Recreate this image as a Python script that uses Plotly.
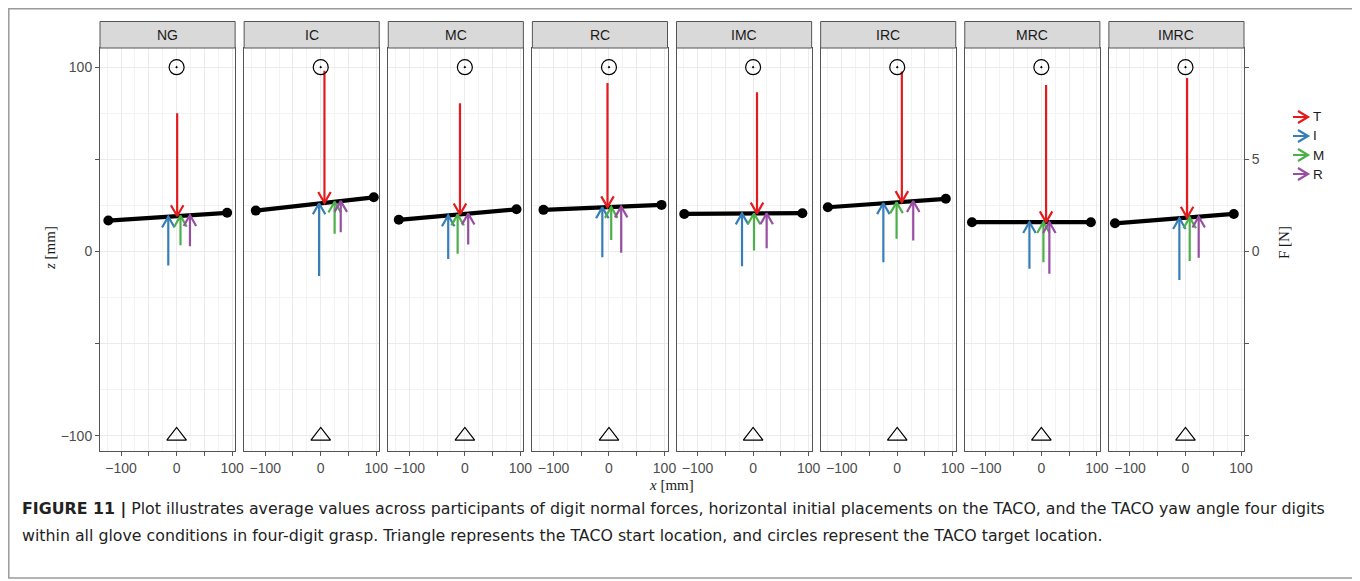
import plotly.graph_objects as go
from plotly.subplots import make_subplots

# ---------------- data ----------------
conditions = ["NG", "IC", "MC", "RC", "IMC", "IRC", "MRC", "IMRC"]
# TACO (object) edge positions, mm
taco_x_left = [-123, -117, -119, -118, -124, -125, -125, -127]
taco_z_left = [16.8, 22.2, 17.2, 22.6, 20.4, 24.0, 15.9, 15.3]
taco_x_right = [91, 95.5, 93, 94.6, 88.7, 87.5, 89.2, 87]
taco_z_right = [21.0, 29.4, 22.9, 25.3, 20.8, 28.6, 15.9, 20.4]
# horizontal placements of digits, mm
x_T = [1, 6.7, -8.8, -2.7, 7, 8.3, 8.5, 2.9]
x_I = [-15, -3, -30, -12, -20, -25, -21.5, -11]
x_M = [7, 25, -13, 4, 1.6, -1.2, 3.7, 7.6]
x_R = [24, 36, 6, 22, 24.4, 28.8, 14.4, 23.8]
# normal forces, N
F_T = [5.58, 7.17, 6.02, 6.73, 6.57, 7.08, 7.44, 7.57]
F_I = [2.65, 3.93, 2.36, 2.71, 2.86, 3.20, 2.53, 3.35]
F_M = [1.60, 1.74, 2.13, 1.79, 2.01, 1.98, 2.17, 2.37]
F_R = [1.68, 1.69, 1.67, 2.51, 1.89, 2.13, 2.80, 2.23]
# start / target locations
start_xz = (0, -100)
target_xz = (0, 100)

digit_labels = ["T", "I", "M", "R"]
digit_colors = ["#E41A1C", "#377EB8", "#4DAF4A", "#984EA3"]
mm_per_N = 10

x_ticks = [-100, -50, 0, 50, 100]
x_ticktext = ["\u2212100", "", "0", "", "100"]
x_minor = [-125, -75, -25, 25, 75]
z_ticks = [-100, -50, 0, 50, 100]
z_ticktext = ["\u2212100", "", "0", "", "100"]
z_minor = [-75, -25, 25, 75]
F_ticks = [-10, -5, 0, 5, 10]
F_ticktext = ["", "", "0", "5", ""]

caption1 = ("<b>FIGURE 11 |</b> Plot illustrates average values across participants of digit normal forces, "
            "horizontal initial placements on the TACO, and the TACO yaw angle four digits")
caption2 = ("within all glove conditions in four-digit grasp. Triangle represents the TACO start location, "
            "and circles represent the TACO target location.")

# ---------------- layout geometry (screen pixels; page body adds an 8px offset) ----------------
OFF = 8
W, H = 1360 - OFF, 581 - OFF
plot_left, plot_right, plot_top, plot_bottom = 100, 1244, 48, 451   # screen coords
ML = plot_left - OFF
MT = plot_top - OFF
MR = W - (plot_right - OFF)
MB = H - (plot_bottom - OFF)
PW, PH = W - ML - MR, H - MT - MB
n = len(conditions)
gap_px = 9
hs = gap_px / PW
xr = [-138, 105.4]
zr = [-108.2, 110.4]
panel_w = (PW - (n - 1) * gap_px) / n
kx = panel_w / (xr[1] - xr[0])   # px per mm (x)
kz = PH / (zr[1] - zr[0])        # px per mm (z)
head_len = 12.5
hx = head_len * 0.5 / kx
hz = head_len * 0.866 / kz


def px2paper(px, py):
    return (px - OFF - ML) / PW, (H - MB - (py - OFF)) / PH


fig = make_subplots(rows=1, cols=n, horizontal_spacing=hs)

FRAME = "#555555"
GRID = "#ebebeb"
GRID_MINOR = "#f3f3f3"
SANS = "Liberation Sans, Arial, sans-serif"
TICKFONT = dict(family=SANS, size=14, color="#4d4d4d")

for i, cond in enumerate(conditions):
    col = i + 1
    xl, zl, xrt, zrt = taco_x_left[i], taco_z_left[i], taco_x_right[i], taco_z_right[i]

    def z_on_line(x):
        return zl + (x - xl) * (zrt - zl) / (xrt - xl)

    # TACO line
    fig.add_trace(go.Scatter(x=[xl, xrt], y=[zl, zrt], mode="lines+markers",
                             line=dict(color="black", width=4.2),
                             marker=dict(color="black", size=10),
                             showlegend=False, hoverinfo="skip"), row=1, col=col)
    # digit force arrows
    xs_all = [x_T[i], x_I[i], x_M[i], x_R[i]]
    fs_all = [F_T[i], F_I[i], F_M[i], F_R[i]]
    for d, (xd, fd, c) in enumerate(zip(xs_all, fs_all, digit_colors)):
        tip = z_on_line(xd)
        if d == 0:   # thumb pushes downward from above
            tail = tip + fd * mm_per_N
            h = hz
        else:        # fingers push upward from below
            tail = tip - fd * mm_per_N
            h = -hz
        xs = [xd, xd, None, xd - hx, xd, xd + hx]
        ys = [tail, tip, None, tip + h, tip, tip + h]
        fig.add_trace(go.Scatter(x=xs, y=ys, mode="lines",
                                 line=dict(color=c, width=2.2),
                                 showlegend=False, hoverinfo="skip"), row=1, col=col)
    # target and start markers
    fig.add_trace(go.Scatter(x=[target_xz[0]], y=[target_xz[1]], mode="markers",
                             marker=dict(symbol="circle-open-dot", size=15, color="black",
                                         line=dict(width=1.2, color="black")),
                             showlegend=False, hoverinfo="skip"), row=1, col=col)
    fig.add_trace(go.Scatter(x=[start_xz[0]], y=[start_xz[1]], mode="markers",
                             marker=dict(symbol="triangle-up-open", size=17, color="black",
                                         line=dict(width=1.2, color="black")),
                             showlegend=False, hoverinfo="skip"), row=1, col=col)

    fig.update_xaxes(range=xr, tickvals=x_ticks, ticktext=x_ticktext,
                     ticks="outside", ticklen=4, tickcolor=FRAME, tickwidth=1,
                     showline=True, linecolor=FRAME, linewidth=1, mirror=True,
                     showgrid=True, gridcolor=GRID, gridwidth=1, zeroline=False,
                     minor=dict(tickvals=x_minor, showgrid=True, gridcolor=GRID_MINOR, gridwidth=1),
                     tickfont=TICKFONT, row=1, col=col)
    fig.update_yaxes(range=zr, tickvals=z_ticks, ticktext=z_ticktext,
                     ticks="outside" if i == 0 else "", ticklen=4, tickcolor=FRAME,
                     showticklabels=(i == 0),
                     showline=True, linecolor=FRAME, linewidth=1, mirror=True,
                     showgrid=True, gridcolor=GRID, gridwidth=1, zeroline=False,
                     minor=dict(tickvals=z_minor, showgrid=True, gridcolor=GRID_MINOR, gridwidth=1),
                     tickfont=TICKFONT, row=1, col=col)

    # strip
    dom = fig.layout["xaxis" if col == 1 else f"xaxis{col}"].domain
    _, y_strip_top = px2paper(0, 21.5)
    fig.add_shape(type="rect", xref="paper", yref="paper", x0=dom[0], x1=dom[1],
                  y0=1, y1=y_strip_top, fillcolor="#d9d9d9",
                  line=dict(color=FRAME, width=1), layer="above")
    fig.add_annotation(xref="paper", yref="paper", x=(dom[0] + dom[1]) / 2,
                       y=(1 + y_strip_top) / 2, text=cond, showarrow=False,
                       font=dict(family=SANS, size=14, color="#1a1a1a"),
                       xanchor="center", yanchor="middle")

# secondary force axis on the right of the last panel
fig.update_layout(yaxis9=dict(overlaying=f"y{n}", anchor=f"x{n}", side="right",
                              range=[zr[0] / mm_per_N, zr[1] / mm_per_N],
                              tickvals=F_ticks, ticktext=F_ticktext, ticks="outside",
                              ticklen=4, tickcolor=FRAME, showgrid=False, zeroline=False,
                              showline=False, tickfont=TICKFONT))
fig.add_trace(go.Scatter(x=[None], y=[None], xaxis=f"x{n}", yaxis="y9",
                         showlegend=False, hoverinfo="skip"))

# axis titles
SERIF = "Liberation Serif, Times New Roman, serif"
TITLEFONT = dict(family=SERIF, size=15, color="#1a1a1a")
for txt, (px, py), ang in [("<i>z</i> [mm]", (50, 248), -90),
                           ("<i>x</i> [mm]", (671, 485), 0),
                           ("F [N]", (1284, 243), -90)]:
    xa, ya = px2paper(px, py)
    fig.add_annotation(xref="paper", yref="paper", x=xa, y=ya, text=txt,
                       textangle=ang, showarrow=False, xanchor="center", yanchor="middle",
                       font=TITLEFONT)

# custom legend of arrow keys
for j, (lab, c) in enumerate(zip(digit_labels, digit_colors)):
    py = 117 + 19 * j
    x0, y0 = px2paper(1293, py)
    x1, _ = px2paper(1308, py)
    dxp = 10 / PW
    dyp = 6 / PH
    path = (f"M {x0},{y0} L {x1},{y0} M {x1 - dxp},{y0 + dyp} "
            f"L {x1},{y0} L {x1 - dxp},{y0 - dyp}")
    fig.add_shape(type="path", xref="paper", yref="paper", path=path,
                  line=dict(color=c, width=2.2))
    xt, yt = px2paper(1311, py)
    fig.add_annotation(xref="paper", yref="paper", x=xt, y=yt, text=lab,
                       showarrow=False, xanchor="left", yanchor="middle",
                       font=dict(family=SANS, size=13.5, color="#1a1a1a"))

# caption
CAPFONT = dict(family="DejaVu Sans, Liberation Sans, sans-serif", size=15.8, color="#222222")
for text, py in [(caption1, 509), (caption2, 535)]:
    xt, yt = px2paper(20, py)
    fig.add_annotation(xref="paper", yref="paper", x=xt, y=yt, text=text,
                       showarrow=False, xanchor="left", yanchor="middle", font=CAPFONT)

# outer frame
fx0, fy0 = px2paper(8.8, 8.8)
fx1, fy1 = px2paper(1355, 578)
fig.add_shape(type="rect", xref="paper", yref="paper", x0=fx0, x1=fx1, y0=fy1, y1=fy0,
              line=dict(color="#9a9a9a", width=1.5), fillcolor="rgba(0,0,0,0)")

fig.update_layout(width=W, height=H, margin=dict(l=ML, r=MR, t=MT, b=MB),
                  plot_bgcolor="white", paper_bgcolor="white", showlegend=False)

fig.write_html("out.html")
